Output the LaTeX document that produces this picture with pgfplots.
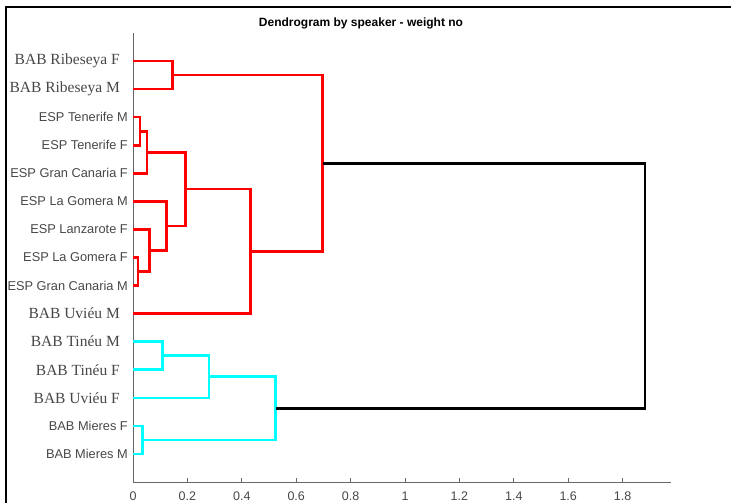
\documentclass[border=0pt]{standalone}
\usepackage{fontspec}
\usepackage{pgfplots}
\pgfplotsset{compat=1.18}
\newfontfamily\sansf{Liberation Sans}
\newfontfamily\serf{Liberation Serif}
\definecolor{axgray}{gray}{0.4}
\definecolor{labgray}{gray}{0.28}
\definecolor{clred}{rgb}{1,0,0}
\definecolor{clcyan}{rgb}{0,1,1}
% leaf labels: two kinds of type
\newcommand{\labS}[1]{{\fontsize{12.8}{14}\sansf #1}}
\newcommand{\labT}[1]{\hbox{\fontsize{15.5}{17}\serf #1\kern8pt}}
\begin{document}
\begin{tikzpicture}
\useasboundingbox (0,0) rectangle (731pt,503pt);
% outer frame
\draw[line width=1.8pt] (6pt,0) -- (6pt,496pt) -- (731pt,496pt);
\node[font=\fontsize{12}{14}\sansf\bfseries] at (361pt,480pt) {Dendrogram by speaker - weight no};
\begin{axis}[
  at={(133pt,21pt)}, anchor=south west,
  scale only axis, width=538pt, height=449pt,
  xmin=0, xmax=1.978, ymin=0, ymax=16,
  axis x line*=bottom, axis y line*=left,
  axis line style={-, draw=axgray, line width=0.6pt},
  xtick={0,0.2,...,1.8},
  tick align=inside,
  x tick style={draw=axgray, line width=0.6pt},
  major tick length=3.5pt,
  ytick={1,...,15},
  y tick style={draw=none},
  yticklabels={\labS{BAB Mieres M},\labS{BAB Mieres F},\labT{BAB Uvi\'eu F},\labT{BAB Tin\'eu F},\labT{BAB Tin\'eu M},\labT{BAB Uvi\'eu M},\labS{ESP Gran Canaria M},\labS{ESP La Gomera F},\labS{ESP Lanzarote F},\labS{ESP La Gomera M},\labS{ESP Gran Canaria F},\labS{ESP Tenerife F},\labS{ESP Tenerife M},\labT{BAB Ribeseya M},\labT{BAB Ribeseya F}},
  yticklabel style={anchor=east, inner sep=0pt, xshift=-5pt, text=labgray},
  xticklabel style={anchor=north, inner sep=0pt, yshift=-10pt, text=labgray, font=\fontsize{12.5}{14}\sansf},
  /pgf/number format/assume math mode=true,
  clip=false,
  every axis plot/.append style={line width=2.6pt, no markers, line join=miter},
]
% red cluster
\addplot[clred] coordinates {(0,13) (0.026,13) (0.026,12) (0,12)};
\addplot[clred] coordinates {(0.026,12.5) (0.052,12.5) (0.052,11) (0,11)};
\addplot[clred] coordinates {(0,8) (0.018,8) (0.018,7) (0,7)};
\addplot[clred] coordinates {(0,9) (0.061,9) (0.061,7.5) (0.018,7.5)};
\addplot[clred] coordinates {(0,10) (0.123,10) (0.123,8.25) (0.061,8.25)};
\addplot[clred] coordinates {(0.052,11.75) (0.194,11.75) (0.194,9.125) (0.123,9.125)};
\addplot[clred] coordinates {(0.194,10.4375) (0.432,10.4375) (0.432,6) (0,6)};
\addplot[clred] coordinates {(0,15) (0.145,15) (0.145,14) (0,14)};
\addplot[clred] coordinates {(0.145,14.5) (0.697,14.5) (0.697,8.21875) (0.432,8.21875)};
% cyan cluster
\addplot[clcyan] coordinates {(0,5) (0.108,5) (0.108,4) (0,4)};
\addplot[clcyan] coordinates {(0.108,4.5) (0.279,4.5) (0.279,3) (0,3)};
\addplot[clcyan] coordinates {(0,2) (0.035,2) (0.035,1) (0,1)};
\addplot[clcyan] coordinates {(0.279,3.75) (0.524,3.75) (0.524,1.5) (0.035,1.5)};
% root link
\addplot[black] coordinates {(0.697,11.359375) (1.882,11.359375) (1.882,2.625) (0.524,2.625)};
\end{axis}
\end{tikzpicture}
\end{document}
